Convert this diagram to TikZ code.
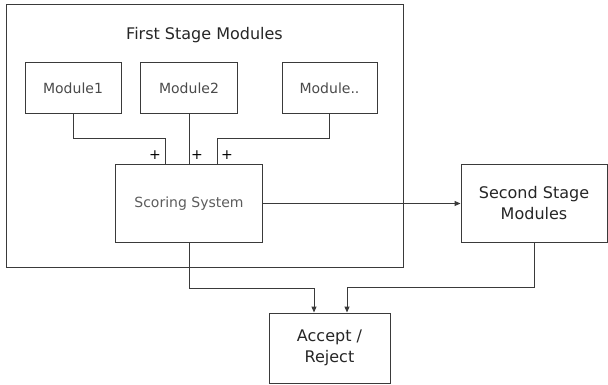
\documentclass[tikz,border=0pt]{standalone}
\usepackage{fontspec}
\setmainfont{DejaVu Sans}
\usetikzlibrary{arrows.meta}

\definecolor{edge}{HTML}{3A3A3A}
\definecolor{labelgray}{HTML}{4A4A4A}
\definecolor{softgray}{HTML}{5C5C5C}

\tikzset{
  box/.style={draw=edge, line width=1pt, inner sep=0pt, fill=none},
  modbox/.style={box, minimum height=51pt, text=labelgray,
                 font=\fontsize{14}{16}\selectfont},
  bigbox/.style={box, align=center, text=black!85,
                 font=\fontsize{16}{21}\selectfont},
  wire/.style={draw=edge, line width=1pt},
  flow/.style={wire, -{Triangle[length=6pt,width=5pt]}},
  plus/.style={inner sep=0pt, text=black, font=\fontsize{14}{16}\selectfont}
}

\begin{document}
\begin{tikzpicture}[x=1pt, y=-1pt]
  \useasboundingbox (0,0) rectangle (608,385);

  % enclosing frame of the first stage
  \node[box, minimum width=397pt, minimum height=262pt] (frame) at (204.5,136) {};
  \node[text=black!85, font=\fontsize{16}{18}\selectfont] (title) at (204.5,35) {First Stage Modules};

  % first stage modules
  \node[modbox, minimum width=96pt] (m1) at (73,88.5) {Module1};
  \node[modbox, minimum width=97pt] (m2) at (189,88.5) {Module2};
  \node[modbox, minimum width=95pt] (m3) at (329.5,88.5) {Module..};

  % scoring, second stage and decision
  \node[box, minimum width=147pt, minimum height=77pt, text=softgray,
        font=\fontsize{14}{16}\selectfont] (score) at (189,203.5) {Scoring System};
  \node[bigbox, minimum width=146pt, minimum height=77pt] (second) at (534,203.5) {Second Stage\\Modules};
  \node[bigbox, minimum width=121pt, minimum height=70pt] (accept) at (329.5,348) {Accept /\\Reject};

  % bend points of the wiring
  \coordinate (j1) at (165,139);
  \coordinate (j3) at (217,139);
  \coordinate (j4) at (314,288);
  \coordinate (j5) at (347,287);

  % module outputs summed into the scoring system
  \draw[wire] (m1.south) |- (j1) -- (j1 |- score.north);
  \draw[wire] (m2.south) -- (score.north);
  \draw[wire] (m3.south) |- (j3) -- (j3 |- score.north);

  \node[plus] (p1) at (155,155) {+};
  \node[plus] (p2) at (197,155) {+};
  \node[plus] (p3) at (227,155) {+};

  % flow onward
  \draw[flow] (score.east) -- (second.west);
  \draw[flow] (score.south) |- (j4) -- (j4 |- accept.north);
  \draw[flow] (second.south) |- (j5) -- (j5 |- accept.north);
\end{tikzpicture}
\end{document}
